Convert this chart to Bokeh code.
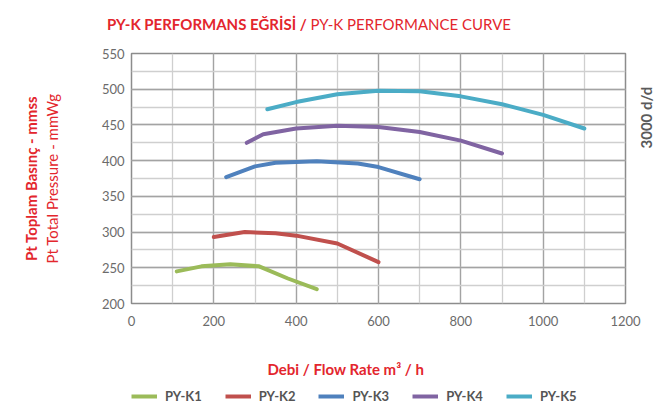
import math
from bokeh.plotting import figure
from bokeh.layouts import column
from bokeh.models import Legend, LegendItem, FixedTicker, LinearAxis, Title, Div
from bokeh.embed import file_html
from bokeh.resources import INLINE

# --- data ---
k1_x = [110, 170, 240, 310, 380, 450]
k1_y = [245, 252, 255, 252, 235, 220]
k2_x = [200, 275, 350, 400, 500, 600]
k2_y = [293, 300, 298.5, 295, 284, 258]
k3_x = [230, 300, 350, 450, 550, 600, 700]
k3_y = [377, 392, 397, 399, 396, 391, 374]
k4_x = [280, 320, 400, 500, 600, 700, 800, 900]
k4_y = [425, 437, 445, 449, 447, 440, 428, 410]
k5_x = [330, 400, 500, 600, 700, 800, 900, 1000, 1100]
k5_y = [472, 482, 493, 498, 497, 490, 479, 464, 445]
series_names = ["PY-K1", "PY-K2", "PY-K3", "PY-K4", "PY-K5"]
series_colors = ["#9BBB59", "#C0504D", "#4F81BD", "#8064A2", "#4BACC6"]
x_ticks = [0, 200, 400, 600, 800, 1000, 1200]
y_ticks = [200, 250, 300, 350, 400, 450, 500, 550]
title_bold = "PY-K PERFORMANS EĞRİSİ /"
title_normal = "PY-K PERFORMANCE CURVE"
ylabel_bold = "Pt Toplam Basınç - mmss"
ylabel_normal = "Pt Total Pressure - mmWg"
xlabel = "Debi / Flow Rate m³ / h"
speed_label = "3000 d/d"

RED = "#E3262D"
FONT = "Lato"
W = 661

# ---- header with the title ----
head = Div(width=W, height=40,
           text=('<div style="margin:0; padding:16px 0 0 107px; white-space:nowrap; '
                 'font-family:Lato; font-size:15px; line-height:17px; color:%s;">'
                 '<b>%s</b> %s</div>') % (RED, title_bold, title_normal),
           styles={"margin": "0", "padding": "0"})

# ---- main chart ----
p = figure(frame_width=494, frame_height=250, x_range=(0, 1200), y_range=(200, 550),
           output_backend="svg", toolbar_location=None,
           min_border_left=131, min_border_right=36, min_border_top=13,
           min_border_bottom=54)
p.background_fill_color = "white"
p.border_fill_color = "white"
p.outline_line_color = "#8c8c8c"
p.outline_line_width = 1.5

p.xaxis.ticker = FixedTicker(ticks=x_ticks, minor_ticks=list(range(0, 1201, 100)))
p.yaxis.ticker = FixedTicker(ticks=y_ticks, minor_ticks=list(range(200, 551, 25)))
for ax in (p.xaxis, p.yaxis):
    ax.axis_line_color = None
    ax.major_tick_line_color = None
    ax.minor_tick_line_color = None
    ax.major_tick_out = 0
    ax.minor_tick_out = 0
    ax.major_label_text_font = FONT
    ax.major_label_text_font_size = "13px"
    ax.major_label_text_color = "#6b6b6b"
    ax.axis_label_text_font = FONT
    ax.axis_label_text_font_size = "15px"
    ax.axis_label_text_color = RED
p.xaxis.major_label_standoff = 12
p.yaxis.major_label_standoff = 7

p.yaxis.axis_label = ylabel_normal
p.yaxis.axis_label_text_font_style = "normal"
p.yaxis.axis_label_standoff = 38

p.add_layout(Title(text=ylabel_bold, align="center", text_font=FONT, text_font_style="bold",
                   text_font_size="15px", text_color=RED, standoff=0), "left")

axr = LinearAxis(ticker=FixedTicker(ticks=[417]), major_label_overrides={417: speed_label},
                 major_label_orientation=math.pi / 2, axis_line_color=None,
                 major_tick_line_color=None, minor_tick_line_color=None,
                 major_tick_out=0, minor_tick_out=0, major_label_standoff=20,
                 major_label_text_font=FONT, major_label_text_font_style="bold",
                 major_label_text_font_size="15px", major_label_text_color="#5a5a5a")
p.add_layout(axr, "right")

for g in (p.xgrid, p.ygrid):
    g.grid_line_color = "#a3a3a3"
    g.grid_line_width = 1.3
    g.minor_grid_line_color = "#cfcfcf"
    g.minor_grid_line_width = 1.3

xs = [k1_x, k2_x, k3_x, k4_x, k5_x]
ys = [k1_y, k2_y, k3_y, k4_y, k5_y]
for x, y, c in zip(xs, ys, series_colors):
    p.line(x, y, line_color=c, line_width=4, line_cap="round", line_join="round")

# ---- bottom strip: x-axis title and legend ----
lf = figure(width=W, height=53, x_range=(2000, 3000), y_range=(0, 1),
            output_backend="svg", toolbar_location=None,
            x_axis_type=None, y_axis_type=None, min_border=0)
lf.outline_line_color = None
lf.grid.visible = False
lf.background_fill_color = "white"
lf.border_fill_color = "white"
lf.add_layout(Title(text=xlabel, align="left", offset=136, standoff=0, text_font=FONT,
                    text_font_style="bold", text_font_size="15px", text_color=RED), "above")
legend_renderers = []
for x, y, c in zip(xs, ys, series_colors):
    # same series, outside this strip's visible range: only drives the legend swatches
    legend_renderers.append(lf.line(x, y, line_color=c, line_width=4))

legend = Legend(items=[LegendItem(label=n, renderers=[r])
                       for n, r in zip(series_names, legend_renderers)],
                orientation="horizontal", location=(0, 6),
                glyph_width=26, glyph_height=16, label_height=16, label_standoff=8, spacing=23,
                padding=0, margin=0, border_line_color=None, background_fill_alpha=0,
                label_text_font=FONT, label_text_font_style="bold",
                label_text_font_size="13px", label_text_color="#555555")
lf.add_layout(legend, "center")

layout = column(head, p, lf, spacing=0)
open("out.html", "w").write(file_html(layout, INLINE))
